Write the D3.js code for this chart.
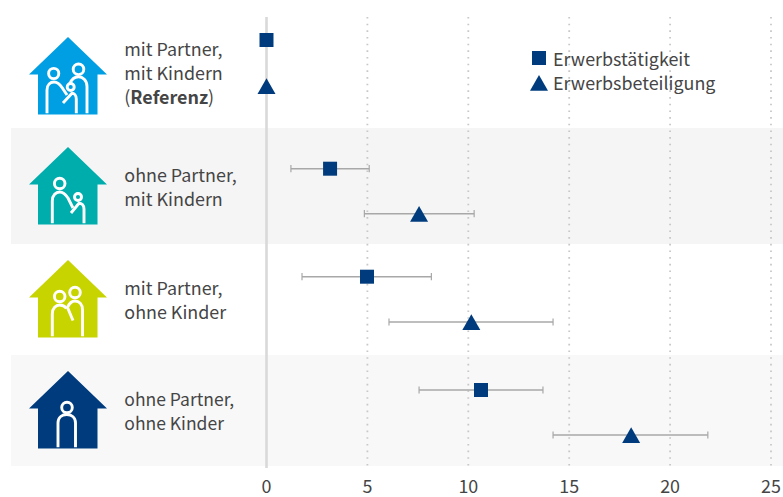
<!DOCTYPE html>
<html><head><meta charset="utf-8">
<script src="https://cdn.jsdelivr.net/npm/d3@7"></script>
<style>html,body{margin:0;padding:0;background:#fff}svg{display:block}text{font-family:"Noto Sans CJK SC",sans-serif;fill:#454545}</style>
</head><body><svg id="c" width="783" height="497"></svg>
<script>
const categories=["mit Partner, mit Kindern","ohne Partner, mit Kindern","mit Partner, ohne Kinder","ohne Partner, ohne Kinder"];
const labelLines=[["mit Partner,","mit Kindern"],["ohne Partner,","mit Kindern"],["mit Partner,","ohne Kinder"],["ohne Partner,","ohne Kinder"]];
const houseColors=["#009fe3","#00adad","#c8d400","#003c7d"];
const seriesNames=["Erwerbstätigkeit","Erwerbsbeteiligung"];
const erwerbstaetigkeit=[0,3.15,4.98,10.63];
const erwerbstaetigkeitLow=[null,1.21,1.76,7.56];
const erwerbstaetigkeitHigh=[null,5.09,8.17,13.7];
const erwerbsbeteiligung=[0,7.56,10.15,18.07];
const erwerbsbeteiligungLow=[null,4.85,6.07,14.2];
const erwerbsbeteiligungHigh=[null,10.29,14.2,21.87];
const xTicks=[0,5,10,15,20,25];

const FS=17.9;
const svg=d3.select("#c");
const x=d3.scaleLinear().domain([0,25]).range([266.5,771]);
const yS=d3.scaleOrdinal().domain(categories).range([40,168.7,276.7,390]);
const yT=d3.scaleOrdinal().domain(categories).range([86,213.7,322,435]);
const apex=d3.scaleOrdinal().domain(categories).range([37,147,260,371]);
const textY=d3.scaleOrdinal().domain(categories).range([55.5,181.5,294.5,405.5]);
const labelSize=d3.scaleOrdinal().domain(categories).range([FS,FS,FS,17.5]);
const navy="#003c7d";

svg.append("g").selectAll("rect").data([[128,244,"#f5f5f5"],[355,466,"#f8f8f8"]]).join("rect")
 .attr("x",11).attr("width",772).attr("y",d=>d[0]).attr("height",d=>d[1]-d[0]).attr("fill",d=>d[2]);

svg.append("g").selectAll("line").data(xTicks.filter(d=>d>0)).join("line")
 .attr("x1",d=>x(d)).attr("x2",d=>x(d)).attr("y1",17).attr("y2",470)
 .attr("stroke","#c8c8c8").attr("stroke-width",1.8).attr("stroke-dasharray","1.6 5.07");
svg.append("line").attr("x1",x(0)).attr("x2",x(0)).attr("y1",17).attr("y2",468).attr("stroke","#d9d9d9").attr("stroke-width",2.6);

const axis=d3.axisBottom(x).tickValues(xTicks).tickSize(0).tickPadding(0).offset(0).tickFormat(d3.format("d"));
const ax=svg.append("g").attr("transform","translate(0,480)").call(axis);
ax.select(".domain").remove();
ax.selectAll("text").attr("font-size",FS).attr("style",'font-family:"Noto Sans CJK SC",sans-serif;fill:#454545');

// error bars
function bars(low,high,y){
 const data=categories.map((c,i)=>({c,l:low[i],h:high[i]})).filter(d=>d.l!==null);
 const g=svg.append("g").attr("stroke","#a8a8a8");
 g.selectAll(".b").data(data).join("line").attr("x1",d=>x(d.l)).attr("x2",d=>x(d.h)).attr("y1",d=>y(d.c)).attr("y2",d=>y(d.c)).attr("stroke-width",1.4);
 for(const k of ["l","h"]) g.selectAll(".c"+k).data(data).join("line").attr("class","c"+k).attr("x1",d=>x(d[k])).attr("x2",d=>x(d[k])).attr("y1",d=>y(d.c)-3.6).attr("y2",d=>y(d.c)+3.6).attr("stroke-width",1.2);
}
bars(erwerbstaetigkeitLow,erwerbstaetigkeitHigh,yS);
bars(erwerbsbeteiligungLow,erwerbsbeteiligungHigh,yT);

const sq=d3.symbol().type(d3.symbolSquare).size(196);
const triPath="M0,-8.7 L9,7 L-9,7 Z";
svg.append("g").selectAll("path").data(categories).join("path").attr("d",sq).attr("fill",navy)
 .attr("transform",(c,i)=>`translate(${x(erwerbstaetigkeit[i])},${yS(c)})`);
svg.append("g").selectAll("path").data(categories).join("path").attr("d",triPath).attr("fill",navy)
 .attr("transform",(c,i)=>`translate(${x(erwerbsbeteiligung[i])},${yT(c)+1})`);

// legend
const leg=svg.append("g");
leg.append("path").attr("d",sq).attr("fill",navy).attr("transform","translate(539,58)");
leg.append("path").attr("d",triPath).attr("fill",navy).attr("transform","translate(539,83.7)");
seriesNames.forEach((s,i)=>leg.append("text").attr("x",553).attr("y",65.5+i*24).attr("font-size",FS).text(s));

// labels
const lab=svg.append("g");
categories.forEach((c,i)=>{
 const t=lab.append("text").attr("font-size",labelSize(c));
 labelLines[i].forEach((l,j)=>t.append("tspan").attr("x",124.3).attr("y",textY(c)+j*24).text(l));
 if(i==0){const r=t.append("tspan").attr("x",124.3).attr("y",textY(c)+48);
  r.append("tspan").text("(");r.append("tspan").attr("font-weight",700).text("Referenz");r.append("tspan").text(")");}
});

// houses
const housePath="M0,0 L39,37.5 L29.5,37.5 L29.5,77.5 L-30,77.5 L-30,37.5 L-39,37.5 Z";
const figures=[
 [{h:[-14.3,36.5,5.1],b:"M-21,76.3V53C-21,47.5 -17.5,45 -14,45C-9,45 -7,49 -5,52L-1,58"},
  {h:[10.5,32.3,5.3],b:"M19,76.3V49.5C19,43 14.5,39.8 10.5,39.8C7,39.8 3.5,42.5 1.7,47"},
  {h:[2.7,50,3.5],b:"M8.3,76.3V62C8.3,58 6,56.3 4,56.3L-5,66"}],
 [{h:[-8.3,36.5,5.3],b:"M-15.7,76.3V54C-15.7,48 -12,45 -8.3,45C-4,45 -2,48 0,51L5,61"},
  {h:[10,50,3.5],b:"M16,76.3V62C16,58 13.5,56.3 11,56.3L3,66"}],
 [{h:[-8.3,36.5,5.3],b:"M-15.7,76.3V54C-15.7,48 -12,45 -8.3,45C-5,45 -3,46.5 -1.5,48.5"},
  {h:[7,32.5,5.3],b:"M14.5,76.3V50C14.5,44 11,41 7,41C3.5,41 1,44 -0.5,47.5L5,60.5"}],
 [{h:[-1,36.5,5.3],b:"M-10,76.3V52C-10,46 -5.5,43.5 -1.3,43.5C3,43.5 7.5,46 7.5,52V76.3"}]
];
categories.forEach((c,i)=>{
 const g=svg.append("g").attr("transform",`translate(68,${apex(c)})`);
 g.append("path").attr("d",housePath).attr("fill",houseColors[i]);
 figures[i].forEach(f=>{
  g.append("circle").attr("cx",f.h[0]).attr("cy",f.h[1]).attr("r",f.h[2]).attr("fill","none").attr("stroke","#fff").attr("stroke-width",2.9);
  g.append("path").attr("d",f.b).attr("fill","none").attr("stroke","#fff").attr("stroke-width",2.9);
 });
});
</script></body></html>
